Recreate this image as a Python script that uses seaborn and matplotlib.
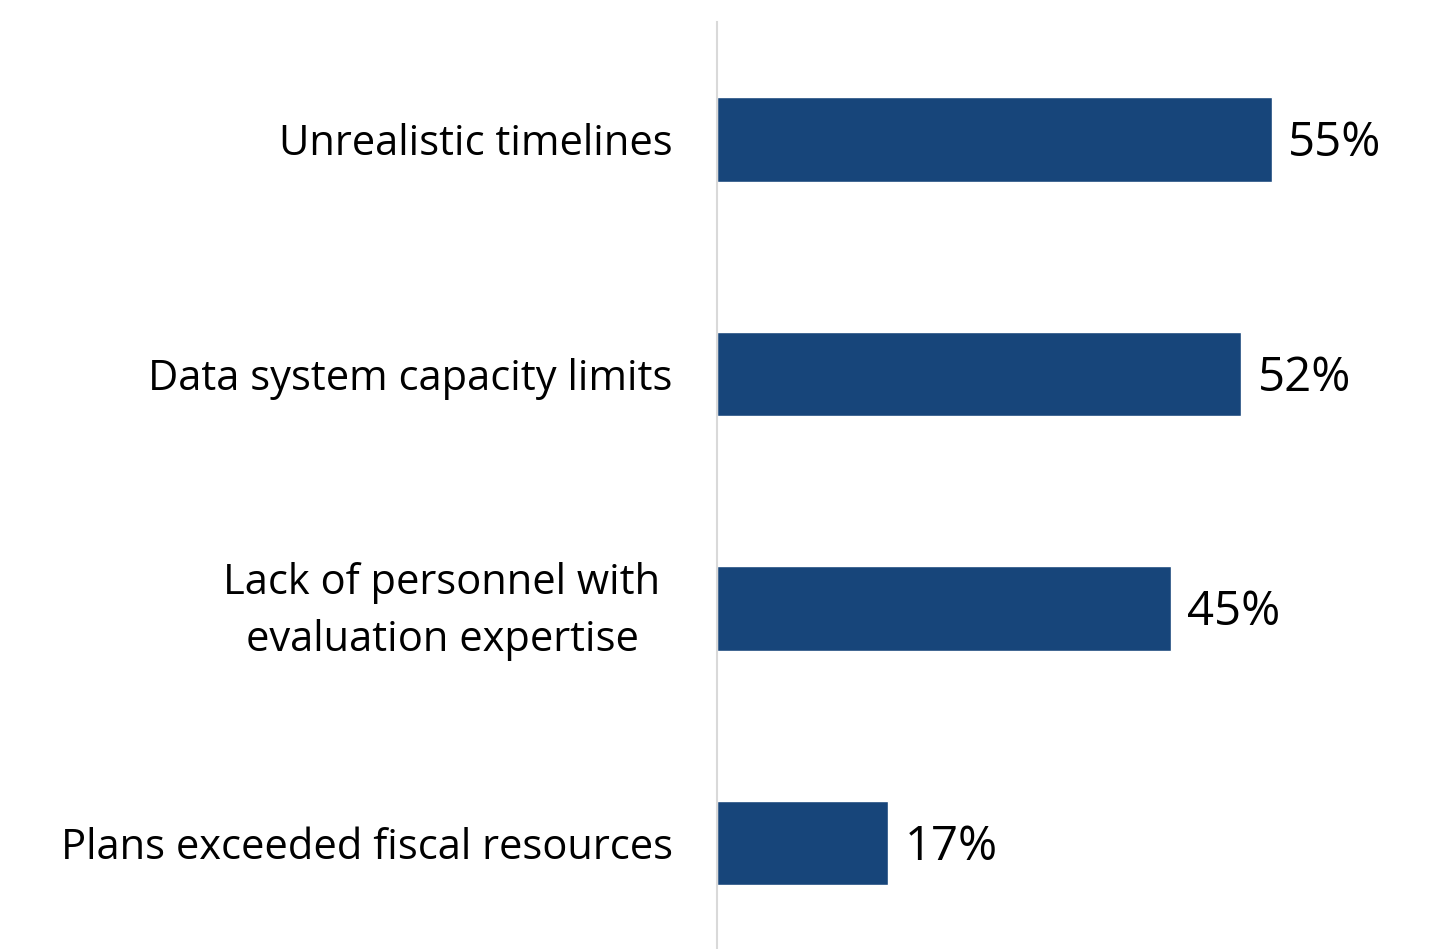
import matplotlib
matplotlib.use("Agg")
import matplotlib.pyplot as plt
import matplotlib.transforms as mtransforms
import seaborn as sns
import pandas as pd

categories = ["Unrealistic timelines", "Data system capacity limits",
              "Lack of personnel with\nevaluation expertise",
              "Plans exceeded fiscal resources"]
values = [55, 52, 45, 17]
value_labels = ["55%", "52%", "45%", "17%"]

sns.set_style("white")
plt.rcParams['font.family'] = ['Open Sans', 'DejaVu Sans']

df = pd.DataFrame({"category": categories, "value": values})

fig = plt.figure(figsize=(14.53, 9.49), dpi=100)
ax = fig.add_axes([717/1453, 0, 1 - 717/1453, 1 - 22/949])
sns.barplot(data=df, y="category", x="value", orient="h", color="#17457A",
            width=0.36, saturation=1, ax=ax)
ax.set_xlim(0, 73)
ax.set_ylim(3.452, -0.5)
ax.set_xlabel("")
ax.set_ylabel("")
ax.set_xticks([])
for s in ["top", "right", "bottom"]:
    ax.spines[s].set_visible(False)
ax.spines["left"].set_color("#D9D9D9")
ax.spines["left"].set_linewidth(1.5)
ax.tick_params(axis="y", length=0, pad=32, labelsize=30, labelcolor="black")
for i, lab in enumerate(ax.get_yticklabels()):
    lab.set_multialignment("center")
    lab.set_linespacing(1.45)
    if "\n" in lab.get_text():
        lab.set_transform(lab.get_transform() +
                          mtransforms.ScaledTranslation(-12/100, 9/100, fig.dpi_scale_trans))
for i, (v, t) in enumerate(zip(values, value_labels)):
    ax.annotate(t, xy=(v, i), xytext=(12, -3), textcoords="offset points",
                va="center", ha="left", fontsize=34, color="black")
fig.savefig("out.png", dpi=100)
